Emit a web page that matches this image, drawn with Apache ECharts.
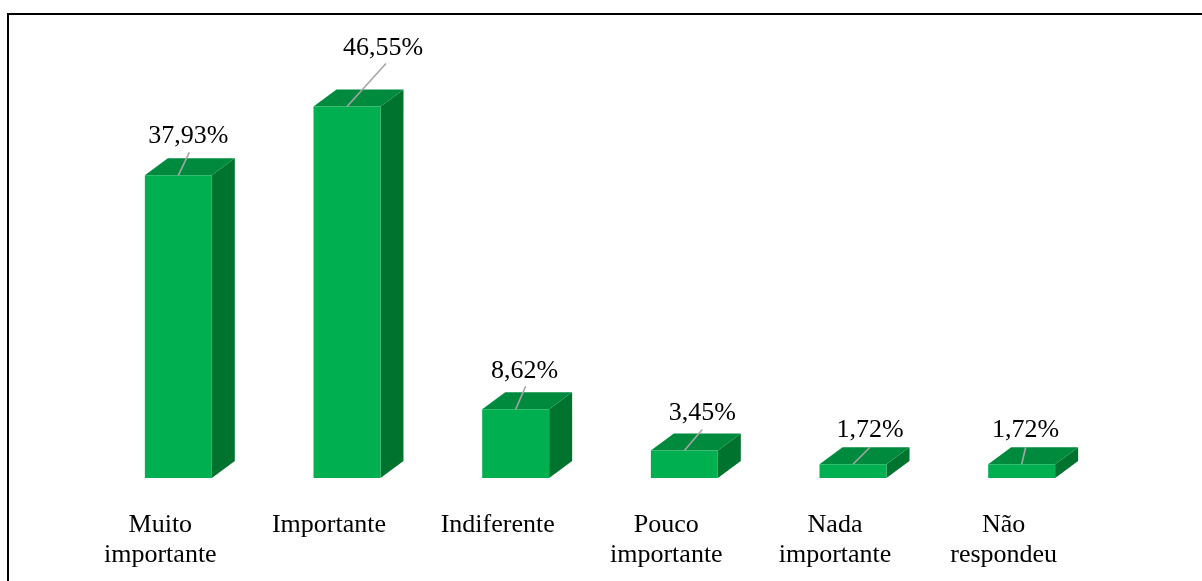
<!DOCTYPE html>
<html>
<head>
<meta charset="utf-8">
<script src="https://cdn.jsdelivr.net/npm/echarts@6/dist/echarts.min.js"></script>
<style>
html,body{margin:0;padding:0;background:#fff;}
#chart{width:1202px;height:581px;}
</style>
</head>
<body>
<div id="chart"></div>
<script>
// ---- data ----
const categories = ['Muito\nimportante', 'Importante', 'Indiferente', 'Pouco\nimportante', 'Nada\nimportante', 'Não\nrespondeu'];
const values = [37.93, 46.55, 8.62, 3.45, 1.72, 1.72];
const valueLabels = ['37,93%', '46,55%', '8,62%', '3,45%', '1,72%', '1,72%'];

// ---- presentation (label placement relative to bar top, px) ----
const labelOffsets = [[10, -39], [36, -58], [9, -38], [18, -37], [17, -34], [4, -34]];
const leaderEnds = [[11, -23], [39, -43], [10, -23], [18, -21], [17, -17], [4, -17]];

const FRONT = '#00B050', TOP = '#008A3E', SIDE = '#00732F';
const DX = 23, DY = 17;
const FONT = 'Liberation Serif';

const chart = echarts.init(document.getElementById('chart'), null, {renderer: 'canvas'});

function renderItem(params, api) {
  const idx = api.value(0);
  const val = api.value(1);
  const pt = api.coord([idx, val]);
  const base = api.coord([idx, 0]);
  const w = api.size([1, 0])[0] * 0.397;
  const l = pt[0] - w / 2, r = pt[0] + w / 2, t = pt[1], b = base[1];
  const off = labelOffsets[idx], le = leaderEnds[idx];
  return {
    type: 'group',
    children: [
      {type: 'polygon', shape: {points: [[r, t], [r + DX, t - DY], [r + DX, b - DY], [r, b]]}, style: {fill: SIDE}},
      {type: 'polygon', shape: {points: [[l, t], [r, t], [r + DX, t - DY], [l + DX, t - DY]]}, style: {fill: TOP}},
      {type: 'rect', shape: {x: l, y: t, width: w, height: b - t}, style: {fill: FRONT}},
      {type: 'line', shape: {x1: pt[0], y1: t, x2: pt[0] + le[0], y2: t + le[1]}, style: {stroke: '#A6A6A6', lineWidth: 1.6}},
      {type: 'text', x: pt[0] + off[0], y: t + off[1], style: {
        text: valueLabels[idx], fill: '#000', font: '26px "' + FONT + '"', align: 'center', verticalAlign: 'middle'
      }}
    ]
  };
}

chart.setOption({
  animation: false,
  backgroundColor: '#fff',
  grid: {left: 94, right: 96, top: 79, bottom: 103},
  xAxis: {
    type: 'category',
    data: categories,
    axisLine: {show: false},
    axisTick: {show: false},
    axisLabel: {
      interval: 0, margin: 32, color: '#000', fontFamily: FONT, fontSize: 26, lineHeight: 30,
      align: 'center', padding: [0, 36, 0, 0]
    }
  },
  yAxis: {type: 'value', min: 0, max: 50, show: false, splitLine: {show: false}},
  series: [{
    type: 'custom',
    renderItem: renderItem,
    encode: {x: 0, y: 1},
    data: values.map((v, i) => [i, v])
  }],
  graphic: [{
    type: 'polyline',
    shape: {points: [[8, 581], [8, 14], [1202, 14]]},
    style: {stroke: '#000', lineWidth: 2, fill: null}
  }]
});
</script>
</body>
</html>
